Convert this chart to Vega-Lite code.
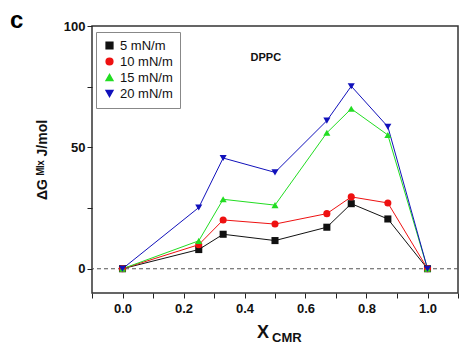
{
  "$schema": "https://vega.github.io/schema/vega-lite/v6.json",
  "width": 366,
  "height": 267,
  "autosize": {"type": "none"},
  "padding": {"left": 92, "top": 26, "right": 16, "bottom": 62},
  "background": "white",
  "title": {"text": "c", "anchor": "start", "frame": "group", "dx": -82, "offset": -37, "fontSize": 24, "fontWeight": "bold", "font": "Liberation Sans", "color": "black", "baseline": "bottom"},
  "config": {
    "font": "Liberation Sans",
    "view": {"stroke": "#333", "strokeWidth": 1.5},
    "axis": {"grid": false, "domain": false, "tickColor": "#222", "labelColor": "#111", "titleColor": "#111", "labelFont": "Liberation Sans", "titleFont": "Liberation Sans", "labelFontWeight": "bold", "titleFontWeight": "bold", "labelFontSize": 13, "tickSize": 5, "labelOverlap": false, "labelFlush": false},
    "legend": {"title": null, "orient": "none", "legendX": 4, "legendY": 6, "padding": 7, "strokeColor": "#888", "fillColor": "white", "labelFontSize": 13, "labelColor": "#111", "rowPadding": 2, "symbolSize": 45, "labelOffset": 4, "labelFont": "Liberation Sans"}
  },
  "datasets": {
    "d": [
      {"x": 0, "y": 0, "s": "5  mN/m"},
      {"x": 0.25, "y": 7.9, "s": "5  mN/m"},
      {"x": 0.33, "y": 14.2, "s": "5  mN/m"},
      {"x": 0.5, "y": 11.6, "s": "5  mN/m"},
      {"x": 0.67, "y": 17.1, "s": "5  mN/m"},
      {"x": 0.75, "y": 26.8, "s": "5  mN/m"},
      {"x": 0.87, "y": 20.5, "s": "5  mN/m"},
      {"x": 1.0, "y": 0, "s": "5  mN/m"},
      {"x": 0, "y": 0, "s": "10 mN/m"},
      {"x": 0.25, "y": 9.9, "s": "10 mN/m"},
      {"x": 0.33, "y": 20.1, "s": "10 mN/m"},
      {"x": 0.5, "y": 18.4, "s": "10 mN/m"},
      {"x": 0.67, "y": 22.7, "s": "10 mN/m"},
      {"x": 0.75, "y": 29.6, "s": "10 mN/m"},
      {"x": 0.87, "y": 27.1, "s": "10 mN/m"},
      {"x": 1.0, "y": 0, "s": "10 mN/m"},
      {"x": 0, "y": 0, "s": "15 mN/m"},
      {"x": 0.25, "y": 11.5, "s": "15 mN/m"},
      {"x": 0.33, "y": 28.6, "s": "15 mN/m"},
      {"x": 0.5, "y": 26.2, "s": "15 mN/m"},
      {"x": 0.67, "y": 56.0, "s": "15 mN/m"},
      {"x": 0.75, "y": 65.9, "s": "15 mN/m"},
      {"x": 0.87, "y": 55.1, "s": "15 mN/m"},
      {"x": 1.0, "y": 0, "s": "15 mN/m"},
      {"x": 0, "y": 0, "s": "20 mN/m"},
      {"x": 0.25, "y": 25.2, "s": "20 mN/m"},
      {"x": 0.33, "y": 45.6, "s": "20 mN/m"},
      {"x": 0.5, "y": 39.7, "s": "20 mN/m"},
      {"x": 0.67, "y": 61.0, "s": "20 mN/m"},
      {"x": 0.75, "y": 75.2, "s": "20 mN/m"},
      {"x": 0.87, "y": 58.5, "s": "20 mN/m"},
      {"x": 1.0, "y": 0, "s": "20 mN/m"}
    ],
    "lab": [{"x": 0.47, "y": 86.8, "t": "DPPC"}],
    "xt": [{"t": "X"}],
    "xs": [{"t": "CMR"}],
    "zero": [{"y": 0}]
  },
  "layer": [
    {
      "data": {"name": "zero"},
      "mark": {"type": "rule", "strokeDash": [4, 3], "color": "#555", "strokeWidth": 1.2},
      "encoding": {"y": {"field": "y", "type": "quantitative", "scale": {"domain": [-10, 100]}}}
    },
    {
      "data": {"name": "d"},
      "mark": {"type": "line", "strokeWidth": 1},
      "encoding": {
        "x": {"field": "x", "type": "quantitative", "scale": {"domain": [-0.1, 1.1], "nice": false, "zero": false},
          "axis": {"values": [-0.1, 0, 0.1, 0.2, 0.3, 0.4, 0.5, 0.6, 0.7, 0.8, 0.9, 1.0, 1.1], "tickCount": 30, "format": ".1f", "labelOverlap": false, "labelExpr": "indexof(['0.0','0.2','0.4','0.6','0.8','1.0'], datum.label) >= 0 ? datum.label : ''", "title": null, "labelPadding": 4}},
        "y": {"field": "y", "type": "quantitative", "scale": {"domain": [-10, 100], "nice": false},
          "axis": {"values": [0, 25, 50, 75, 100], "tickCount": 30, "labelExpr": "datum.value % 50 == 0 ? datum.label : ''", "title": "ΔG ᴹᴵˣ J/mol", "titleFontSize": 14, "titlePadding": 14}},
        "color": {"field": "s", "type": "nominal", "sort": ["5  mN/m", "10 mN/m", "15 mN/m", "20 mN/m"],
          "scale": {"domain": ["5  mN/m", "10 mN/m", "15 mN/m", "20 mN/m"], "range": ["#111111", "#ee1111", "#22dd22", "#1111bb"]}},
        "detail": {"field": "s"}
      }
    },
    {
      "data": {"name": "d"},
      "mark": {"type": "point", "filled": true, "opacity": 1, "size": 50},
      "encoding": {
        "x": {"field": "x", "type": "quantitative"},
        "y": {"field": "y", "type": "quantitative"},
        "color": {"field": "s", "type": "nominal", "sort": ["5  mN/m", "10 mN/m", "15 mN/m", "20 mN/m"],
          "scale": {"domain": ["5  mN/m", "10 mN/m", "15 mN/m", "20 mN/m"], "range": ["#111111", "#ee1111", "#22dd22", "#1111bb"]}},
        "shape": {"field": "s", "type": "nominal", "sort": ["5  mN/m", "10 mN/m", "15 mN/m", "20 mN/m"],
          "scale": {"domain": ["5  mN/m", "10 mN/m", "15 mN/m", "20 mN/m"], "range": ["square", "circle", "triangle-up", "triangle-down"]}}
      }
    },
    {
      "data": {"name": "lab"},
      "mark": {"type": "text", "fontWeight": "bold", "fontSize": 11, "color": "#111"},
      "encoding": {
        "x": {"field": "x", "type": "quantitative"},
        "y": {"field": "y", "type": "quantitative"},
        "text": {"field": "t"}
      }
    },
    {
      "data": {"name": "xt"},
      "mark": {"type": "text", "fontWeight": "bold", "fontSize": 18, "color": "#111", "baseline": "alphabetic", "align": "center", "dx": -12, "clip": false},
      "encoding": {
        "x": {"datum": 0.5, "type": "quantitative"},
        "y": {"datum": -28.5, "type": "quantitative"},
        "text": {"field": "t"}
      }
    },
    {
      "data": {"name": "xs"},
      "mark": {"type": "text", "fontWeight": "bold", "fontSize": 13, "color": "#111", "baseline": "alphabetic", "align": "left", "dx": -3, "dy": 4, "clip": false},
      "encoding": {
        "x": {"datum": 0.5, "type": "quantitative"},
        "y": {"datum": -28.5, "type": "quantitative"},
        "text": {"field": "t"}
      }
    }
  ]
}
